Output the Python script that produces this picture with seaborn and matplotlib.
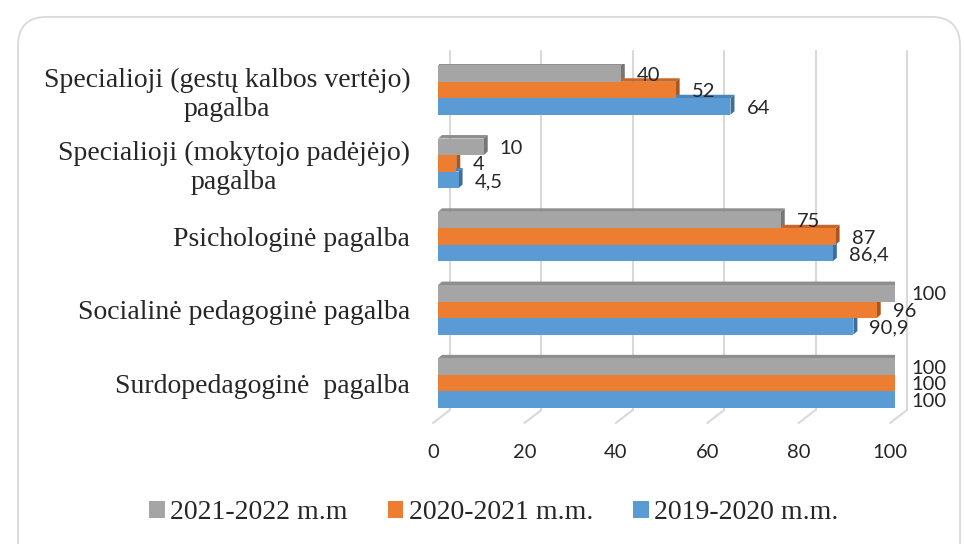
import matplotlib
matplotlib.use("Agg")
import pandas as pd
import matplotlib.pyplot as plt
import matplotlib.transforms as mtransforms
import seaborn as sns
from matplotlib.patches import Polygon, FancyBboxPatch

# Chart data
categories = [
    "Specialioji (gestų kalbos vertėjo)\npagalba",
    "Specialioji (mokytojo padėjėjo)\npagalba",
    "Psichologinė pagalba",
    "Socialinė pedagoginė pagalba",
    "Surdopedagoginė  pagalba",
]
years = ["2021-2022 m.m", "2020-2021 m.m.", "2019-2020 m.m."]
vals_2021_2022 = [40, 10, 75, 100, 100]
vals_2020_2021 = [52, 4, 87, 96, 100]
vals_2019_2020 = [64, 4.5, 86.4, 90.9, 100]
x_ticks = [0, 20, 40, 60, 80, 100]

colors = ["#A5A5A5", "#ED7D31", "#5B9BD5"]
top_colors = ["#8E8E8E", "#C96526", "#4A86BE"]
side_colors = ["#767676", "#A9561F", "#3D6E9C"]

series = [vals_2021_2022, vals_2020_2021, vals_2019_2020]
df = pd.DataFrame({
    "category": categories * 3,
    "year": [y for y in years for _ in categories],
    "value": vals_2021_2022 + vals_2020_2021 + vals_2019_2020,
})

sns.set_style("white")
plt.rcParams["font.family"] = ["Liberation Serif", "DejaVu Serif"]
num_font = "Lato"
num_size = 14.5

fig = plt.figure(figsize=(9.64, 5.44), dpi=100)
W, H = 964, 544
ax = fig.add_axes([438 / W, 1 - 423 / H, 457 / W, 359 / H])

sns.barplot(data=df, y="category", x="value", hue="year", hue_order=years,
            order=categories, palette=colors, orient="h", width=0.675,
            saturation=1, linewidth=0, ax=ax)

ax.set_xlim(0, 100)
ax.set_ylim(4.545, -0.355)
for s in ax.spines.values():
    s.set_visible(False)
ax.set_xlabel("")
ax.set_ylabel("")
ax.set_xticks([])
ax.tick_params(axis="y", length=0, pad=20)
ax.set_yticks(range(len(categories)))
ax.set_yticklabels(categories, fontsize=20, multialignment="center")

# pixel -> data conversions
sx = 100 / 457          # data x per px
sy = 4.9 / 359          # data y per px
ay = 1 / 359            # axes y per px
trans = mtransforms.blended_transform_factory(ax.transData, ax.transAxes)

# back wall gridlines and floor diagonals
grid_col = "#D9D9D9"
for v in x_ticks:
    bx, by = v + 12 * sx, 13 * ay
    fx = v - 5 * sx
    ax.plot([bx, bx], [by, 1 + by], color=grid_col, lw=1.5, transform=trans,
            clip_on=False, zorder=0)
    ax.plot([fx, bx], [0, by], color=grid_col, lw=1.5, transform=trans,
            clip_on=False, zorder=0)
    ax.text(fx, -30 * ay, str(v), transform=trans, ha="center", va="center",
            fontsize=num_size, family=num_font)

# 3D faces and data labels
dx, dy = 4 * sx, 3.5 * sy
for i, cont in enumerate(ax.containers):
    for bar, val in zip(cont, series[i]):
        bar.set_zorder(3)
        x0, w = bar.get_x(), bar.get_width()
        y0, h = bar.get_y(), bar.get_height()
        top = Polygon([(x0, y0), (x0 + w, y0), (x0 + w + dx, y0 - dy), (x0 + dx, y0 - dy)],
                      closed=True, facecolor=top_colors[i], edgecolor="none", zorder=2)
        side = Polygon([(x0 + w, y0), (x0 + w + dx, y0 - dy), (x0 + w + dx, y0 + h - dy),
                        (x0 + w, y0 + h)],
                       closed=True, facecolor=side_colors[i], edgecolor="none", zorder=2)
        ax.add_patch(top)
        ax.add_patch(side)
        label = f"{val:g}".replace(".", ",")
        ax.annotate(label, xy=(x0 + w, y0 + h / 2), xytext=(16 * 0.72, -1.2),
                    textcoords="offset points", ha="left", va="center",
                    fontsize=num_size, family=num_font, annotation_clip=False, zorder=4)

sns.move_legend(ax, "center", bbox_to_anchor=(0.1225, -0.25), ncol=3,
                frameon=False, title=None, fontsize=20, handlelength=0.55,
                handleheight=0.55, handletextpad=0.2, columnspacing=1.45)

# rounded chart border
border = FancyBboxPatch((18 / W, -0.1), (960 - 18) / W, 0.969 + 0.1,
                        boxstyle="round,pad=0,rounding_size=0.03",
                        mutation_aspect=W / H, transform=fig.transFigure,
                        facecolor="none", edgecolor="#D9D9D9", lw=1.3)
fig.patches.append(border)

fig.savefig("out.png", dpi=100)
